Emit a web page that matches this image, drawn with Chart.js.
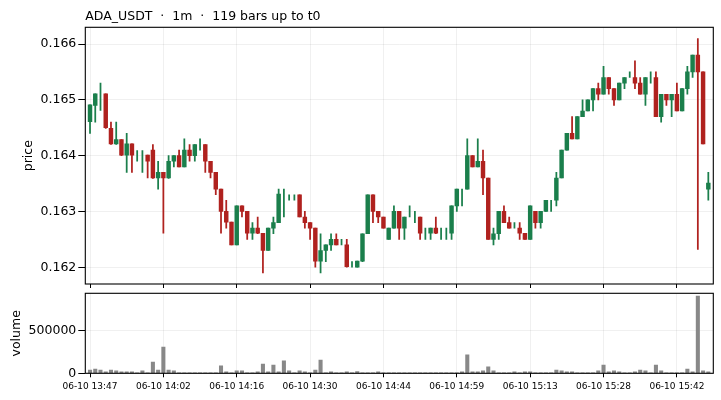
<!DOCTYPE html>
<html>
<head>
<meta charset="utf-8">
<script src="https://cdn.jsdelivr.net/npm/chart.js@4.4.1/dist/chart.umd.min.js"></script>
<style>
  html, body { margin: 0; padding: 0; background: #fff; }
  #wrap { position: relative; width: 721px; height: 400px; }
  #priceChart { position: absolute; left: 0; top: 0; }
  #volChart { position: absolute; left: 0; top: 290px; }
</style>
</head>
<body>
<div id="wrap">
  <canvas id="priceChart" width="721" height="290"></canvas>
  <canvas id="volChart" width="721" height="110"></canvas>
</div>
<script>
// candles, one per minute bar
var opens = [0.16461,0.16490,0.16505,0.16511,0.16449,0.16421,0.16429,0.16401,0.16421,0.16397,
  0.16401,0.16401,0.16410,0.16360,0.16370,0.16360,0.16390,0.16400,0.16380,0.16410,
  0.16400,0.16421,0.16420,0.16390,0.16370,0.16340,0.16300,0.16281,0.16240,0.16310,
  0.16300,0.16261,0.16270,0.16261,0.16230,0.16270,0.16280,0.16331,0.16325,0.16325,
  0.16330,0.16290,0.16280,0.16270,0.16211,0.16230,0.16240,0.16250,0.16245,0.16240,
  0.16204,0.16200,0.16211,0.16260,0.16330,0.16300,0.16290,0.16250,0.16270,0.16300,
  0.16270,0.16291,0.16291,0.16290,0.16261,0.16261,0.16270,0.16261,0.16261,0.16261,
  0.16310,0.16336,0.16340,0.16400,0.16380,0.16390,0.16360,0.16250,0.16260,0.16300,
  0.16280,0.16271,0.16270,0.16261,0.16250,0.16300,0.16280,0.16300,0.16317,0.16320,
  0.16360,0.16410,0.16440,0.16430,0.16470,0.16480,0.16500,0.16520,0.16510,0.16540,
  0.16520,0.16500,0.16530,0.16541,0.16540,0.16530,0.16510,0.16541,0.16540,0.16470,
  0.16510,0.16500,0.16510,0.16480,0.16520,0.16550,0.16580,0.16550,0.16340];
var highs = [0.16491,0.16511,0.16530,0.16511,0.16460,0.16460,0.16429,0.16440,0.16421,0.16409,
  0.16409,0.16401,0.16420,0.16390,0.16370,0.16400,0.16400,0.16410,0.16430,0.16420,
  0.16420,0.16430,0.16420,0.16390,0.16370,0.16340,0.16320,0.16281,0.16310,0.16310,
  0.16300,0.16280,0.16290,0.16261,0.16270,0.16290,0.16340,0.16340,0.16330,0.16330,
  0.16330,0.16300,0.16280,0.16270,0.16260,0.16240,0.16260,0.16260,0.16250,0.16250,
  0.16210,0.16211,0.16260,0.16330,0.16330,0.16300,0.16290,0.16270,0.16310,0.16300,
  0.16290,0.16310,0.16300,0.16290,0.16270,0.16270,0.16290,0.16270,0.16270,0.16310,
  0.16340,0.16340,0.16430,0.16400,0.16430,0.16410,0.16360,0.16270,0.16300,0.16310,
  0.16290,0.16280,0.16280,0.16261,0.16310,0.16300,0.16300,0.16320,0.16320,0.16370,
  0.16410,0.16440,0.16470,0.16470,0.16500,0.16500,0.16520,0.16530,0.16560,0.16540,
  0.16520,0.16530,0.16540,0.16550,0.16570,0.16540,0.16540,0.16550,0.16550,0.16510,
  0.16510,0.16510,0.16530,0.16520,0.16560,0.16580,0.16610,0.16550,0.16370];
var lows = [0.16440,0.16460,0.16481,0.16449,0.16420,0.16420,0.16400,0.16370,0.16370,0.16390,
  0.16370,0.16360,0.16359,0.16340,0.16261,0.16359,0.16380,0.16380,0.16380,0.16390,
  0.16390,0.16410,0.16370,0.16360,0.16330,0.16261,0.16270,0.16240,0.16240,0.16290,
  0.16250,0.16250,0.16260,0.16190,0.16230,0.16260,0.16280,0.16290,0.16320,0.16320,
  0.16290,0.16270,0.16250,0.16200,0.16190,0.16210,0.16230,0.16240,0.16240,0.16200,
  0.16200,0.16200,0.16210,0.16260,0.16280,0.16280,0.16270,0.16250,0.16270,0.16250,
  0.16250,0.16290,0.16280,0.16250,0.16250,0.16250,0.16260,0.16250,0.16250,0.16250,
  0.16300,0.16310,0.16340,0.16380,0.16380,0.16330,0.16250,0.16240,0.16250,0.16280,
  0.16270,0.16270,0.16250,0.16250,0.16250,0.16270,0.16270,0.16300,0.16300,0.16310,
  0.16360,0.16410,0.16430,0.16430,0.16470,0.16480,0.16480,0.16500,0.16510,0.16510,
  0.16490,0.16500,0.16520,0.16540,0.16520,0.16510,0.16490,0.16530,0.16470,0.16460,
  0.16490,0.16470,0.16480,0.16480,0.16510,0.16540,0.16232,0.16421,0.16320];
var closes = [0.16491,0.16511,0.16505,0.16450,0.16421,0.16429,0.16401,0.16421,0.16401,0.16397,
  0.16401,0.16390,0.16360,0.16370,0.16360,0.16390,0.16400,0.16380,0.16410,0.16400,
  0.16420,0.16421,0.16390,0.16370,0.16340,0.16300,0.16281,0.16240,0.16310,0.16300,
  0.16261,0.16270,0.16261,0.16230,0.16270,0.16280,0.16331,0.16331,0.16325,0.16325,
  0.16290,0.16280,0.16270,0.16211,0.16230,0.16240,0.16250,0.16240,0.16245,0.16201,
  0.16204,0.16211,0.16260,0.16330,0.16300,0.16290,0.16270,0.16270,0.16300,0.16270,
  0.16290,0.16291,0.16291,0.16261,0.16261,0.16270,0.16261,0.16261,0.16261,0.16310,
  0.16340,0.16336,0.16400,0.16380,0.16390,0.16360,0.16250,0.16260,0.16300,0.16280,
  0.16270,0.16271,0.16261,0.16250,0.16310,0.16280,0.16300,0.16320,0.16317,0.16360,
  0.16410,0.16440,0.16430,0.16470,0.16480,0.16500,0.16520,0.16510,0.16540,0.16520,
  0.16500,0.16530,0.16540,0.16541,0.16530,0.16510,0.16540,0.16541,0.16470,0.16510,
  0.16500,0.16510,0.16480,0.16520,0.16550,0.16580,0.16550,0.16421,0.16351];
var volumes = [39000,51000,39000,16000,39000,28000,16000,16000,16000,2000,
  28000,2000,134000,39000,311000,39000,28000,2000,2000,2000,
  2000,2000,2000,2000,2000,87000,16000,2000,28000,28000,
  2000,2000,16000,110000,16000,98000,16000,146000,28000,2000,
  28000,16000,2000,39000,157000,2000,16000,2000,2000,16000,
  2000,20000,2000,2000,2000,16000,2000,2000,2000,2000,
  2000,2000,2000,2000,2000,2000,2000,2000,2000,2000,
  2000,16000,217000,16000,16000,28000,75000,28000,2000,2000,
  2000,16000,2000,16000,16000,2000,2000,2000,2000,39000,
  28000,16000,16000,2000,2000,2000,2000,28000,98000,16000,
  28000,16000,2000,2000,16000,39000,28000,2000,98000,28000,
  2000,2000,2000,2000,51000,16000,913000,28000,16000];
var tickPos = [0, 14, 28, 42, 56, 70, 84, 98, 112];
var tickLabels = ['06-10 13:47','06-10 14:02','06-10 14:16','06-10 14:30','06-10 14:44',
  '06-10 14:59','06-10 15:13','06-10 15:28','06-10 15:42'];
var priceTicks = [0.162, 0.163, 0.164, 0.165, 0.166];
var volTicks = [0, 500000];

var up = '#1b7f4c';
var down = '#b0221f';
var gridCol = 'rgba(0,0,0,0.06)';
var fnt = 'DejaVu Sans';

var wicks = [], bodies = [], colors = [], vols = [];
for (var i = 0; i < opens.length; i++) {
  wicks.push({x: i, y: [lows[i], highs[i]]});
  // a doji has no body, only its wick
  bodies.push({x: i, y: opens[i] === closes[i] ? null : [opens[i], closes[i]]});
  colors.push(closes[i] >= opens[i] ? up : down);
  vols.push({x: i, y: volumes[i]});
}

// full frame like the reference, plus title
var frame = {
  id: 'frame',
  afterDraw: function(chart, args, opts) {
    var a = chart.chartArea, ctx = chart.ctx;
    ctx.save();
    ctx.strokeStyle = '#000';
    ctx.lineWidth = 1.1;
    ctx.strokeRect(a.left, a.top, a.right - a.left, a.bottom - a.top);
    if (opts.title) {
      ctx.fillStyle = '#000';
      ctx.font = '12.5px "' + fnt + '"';
      ctx.textBaseline = 'alphabetic';
      ctx.fillText(opts.title, a.left, 20);
    }
    ctx.restore();
  }
};

function xAxis(showLabels, h) {
  return {
    type: 'linear', min: -0.9, max: 118.95, offset: false,
    afterBuildTicks: function(s) { s.ticks = tickPos.map(function(v) { return {value: v}; }); },
    ticks: {
      display: showLabels, autoSkip: false, maxRotation: 0, padding: 4,
      color: '#000', font: {family: fnt, size: 9},
      callback: function(v) { return tickLabels[tickPos.indexOf(v)]; }
    },
    grid: {offset: false, color: gridCol, tickColor: '#000', tickLength: 4, tickWidth: 1},
    border: {display: false},
    afterFit: function(s) {
      s.height = h;
      s.paddingLeft = 0; s.paddingRight = 0;
    }
  };
}

function yAxis(min, max, ticks, fmt, title, titlePad) {
  return {
    min: min, max: max,
    afterBuildTicks: function(s) { s.ticks = ticks.map(function(v) { return {value: v}; }); },
    ticks: {color: '#000', font: {family: fnt, size: 12.5}, padding: 2, callback: fmt},
    grid: {color: gridCol, tickColor: '#000', tickLength: 7, tickWidth: 1},
    border: {display: false},
    title: {display: true, text: title, color: '#000', font: {family: fnt, size: 12.5},
      padding: {top: titlePad, bottom: 0}},
    afterFit: function(s) {
      s.width = 85.3;
      s.paddingTop = 0; s.paddingBottom = 0;
    }
  };
}

new Chart(document.getElementById('priceChart'), {
  type: 'bar',
  data: {
    datasets: [
      {data: wicks, backgroundColor: colors, barThickness: 1.1, grouped: false, borderWidth: 0},
      {data: bodies, backgroundColor: colors, barThickness: 3.8, grouped: false, borderWidth: 0}
    ]
  },
  options: {
    responsive: false, animation: false, devicePixelRatio: 1,
    layout: {padding: {top: 27.3, right: 7.7, left: 0, bottom: 0}},
    plugins: {legend: {display: false}, tooltip: {enabled: false},
      frame: {title: 'ADA_USDT  \u00b7  1m  \u00b7  119 bars up to t0'}},
    scales: {
      x: xAxis(false, 6),
      y: yAxis(0.1617, 0.1663, priceTicks, function(v) { return v.toFixed(3); }, 'price', 21)
    }
  },
  plugins: [frame]
});

new Chart(document.getElementById('volChart'), {
  type: 'bar',
  data: {
    datasets: [
      {data: vols, backgroundColor: '#888888', barThickness: 3.4, borderWidth: 0}
    ]
  },
  options: {
    responsive: false, animation: false, devicePixelRatio: 1,
    layout: {padding: {top: 3.3, right: 7.7, left: 0, bottom: 0}},
    plugins: {legend: {display: false}, tooltip: {enabled: false}, frame: {}},
    scales: {
      x: xAxis(true, 26.7),
      y: yAxis(0, 945000, volTicks, function(v) { return String(v); }, 'volume', 9)
    }
  },
  plugins: [frame]
});
</script>
</body>
</html>
